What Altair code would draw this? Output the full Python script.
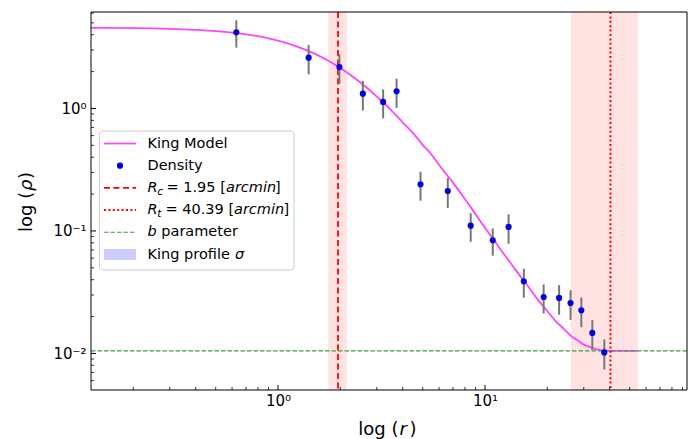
import altair as alt
import pandas as pd

# ---------------- data ----------------
R_PTS = [0.629, 1.406, 1.98, 2.57, 3.22, 3.74, 4.88, 6.61, 8.53, 10.9, 13.0,
         15.4, 19.2, 22.8, 25.9, 29.2, 33.0, 37.7]
RHO_PTS = [4.19, 2.60, 2.18, 1.32, 1.13, 1.38, 0.2405, 0.212, 0.1105, 0.0839,
           0.1078, 0.0388, 0.0289, 0.0284, 0.0258, 0.0225, 0.0147, 0.0102]
ERR_PTS = [1.05, 0.70, 0.59, 0.36, 0.30, 0.37, 0.064, 0.058, 0.029, 0.021,
           0.029, 0.0103, 0.0077, 0.0077, 0.0070, 0.0061, 0.0040, 0.0028]

R_MODEL = [0.125, 0.15, 0.2, 0.25, 0.3, 0.4, 0.5, 0.6, 0.7, 0.8, 0.9, 1.0, 1.2,
           1.5, 1.75, 2.0, 2.25, 2.5, 2.75, 3.0, 3.5, 4.0, 4.5, 5.0, 5.5, 6.0,
           7.0, 8.0, 9.0, 10.0, 11.0, 12.0, 13.5, 15.0, 16.5, 18.0, 20.0, 22.0,
           24.0, 26.0, 28.0, 30.0, 32.0, 34.0, 36.0, 38.0, 40.39, 54.8]
RHO_MODEL = [4.56, 4.548, 4.53, 4.499, 4.47, 4.383, 4.28, 4.162, 4.03, 3.887,
             3.736, 3.58, 3.264, 2.80, 2.452, 2.14, 1.867, 1.63, 1.427, 1.25,
             0.98, 0.77, 0.626, 0.505, 0.4227, 0.345, 0.248, 0.182, 0.137,
             0.106, 0.085, 0.069, 0.0528, 0.0415, 0.0336, 0.0275, 0.0222,
             0.0183, 0.0159, 0.0139, 0.0128, 0.0118, 0.0113, 0.0109, 0.01068,
             0.01053, 0.0105, 0.0105]

RC, RC_SIG = 1.95, 0.2
RT, RT_SIG = 40.39, 14.4
B_PARAM = 0.0105

X_MIN, X_MAX = 0.1249, 94.6
Y_MIN, Y_MAX = 0.00503, 6.13

X_MAJOR = [1, 10]
X_MINOR = [0.2, 0.3, 0.4, 0.5, 0.6, 0.7, 0.8, 0.9,
           2, 3, 4, 5, 6, 7, 8, 9, 20, 30, 40, 50, 60, 70, 80, 90]
Y_MAJOR = [0.01, 0.1, 1]
Y_MINOR = [0.006, 0.007, 0.008, 0.009,
           0.02, 0.03, 0.04, 0.05, 0.06, 0.07, 0.08, 0.09,
           0.2, 0.3, 0.4, 0.5, 0.6, 0.7, 0.8, 0.9, 2, 3, 4, 5, 6]

# ---------------- layout ----------------
W, H = 596, 378
FONT = "DejaVu Sans"

pts = pd.DataFrame({"r": R_PTS, "rho": RHO_PTS, "err": ERR_PTS})
pts["lo"] = pts["rho"] - pts["err"]
pts["hi"] = pts["rho"] + pts["err"]
model = pd.DataFrame({"r": R_MODEL, "rho": RHO_MODEL})
bands = pd.DataFrame({"lo": [RC - RC_SIG, RT - RT_SIG], "hi": [RC + RC_SIG, RT + RT_SIG]})

xs = alt.Scale(type="log", domain=[X_MIN, X_MAX], nice=False)
ys = alt.Scale(type="log", domain=[Y_MIN, Y_MAX], nice=False)

xaxis = alt.Axis(values=X_MAJOR, domain=False, ticks=False, tickSize=0, grid=False,
                 labelFont=FONT, labelFontSize=15, labelColor="black", labelPadding=3,
                 labelFlush=False, labelOverlap=False,
                 labelExpr="datum.value == 1 ? '10\u2070' : '10\u00b9'")
yaxis = alt.Axis(values=Y_MAJOR, domain=False, ticks=False, tickSize=0, grid=False,
                 labelFont=FONT, labelFontSize=15, labelColor="black", labelPadding=5,
                 labelFlush=False, labelOverlap=False,
                 labelExpr="datum.value < 0.05 ? '10\u207b\u00b2' : (datum.value < 0.5 ? '10\u207b\u00b9' : '10\u2070')")


def X(f):
    return alt.X(f, type="quantitative", scale=xs, axis=xaxis, title=None)


def Y(f):
    return alt.Y(f, type="quantitative", scale=ys, axis=yaxis, title=None)


one = pd.DataFrame({"k": [0]})


def txt(s, x, y, size=14.5, italic=False, angle=0, baseline="middle", color="black"):
    kw = dict(text=s, font=FONT, fontSize=size, align="left", baseline=baseline, color=color)
    if italic:
        kw["fontStyle"] = "italic"
    if angle:
        kw["angle"] = angle
    return alt.Chart(one).mark_text(**kw).encode(x=alt.value(x), y=alt.value(y))


def hline(x1, x2, y, color, width, dash=None):
    kw = dict(color=color, strokeWidth=width)
    if dash:
        kw["strokeDash"] = dash
    return alt.Chart(one).mark_rule(**kw).encode(x=alt.value(x1), x2=alt.value(x2), y=alt.value(y))


layers = []
# shaded sigma regions
layers.append(alt.Chart(bands).mark_rect(color="#ffe3e3").encode(
    x=X("lo"), x2="hi", y=alt.value(0), y2=alt.value(H)))
# King model
layers.append(alt.Chart(model).mark_line(color="#ff44ff", strokeWidth=1.8, interpolate="monotone").encode(
    x=X("r"), y=Y("rho")))
# b parameter
layers.append(alt.Chart(pd.DataFrame({"b": [B_PARAM]})).mark_rule(
    color="#3f9f3f", strokeWidth=1.1, strokeDash=[4.5, 2]).encode(y=Y("b")))
# Rc and Rt
layers.append(alt.Chart(pd.DataFrame({"r": [RC]})).mark_rule(
    color="red", strokeWidth=1.8, strokeDash=[6, 3.5]).encode(x=X("r")))
layers.append(alt.Chart(pd.DataFrame({"r": [RT]})).mark_rule(
    color="red", strokeWidth=2, strokeDash=[2, 2.4]).encode(x=X("r")))
# error bars and points
layers.append(alt.Chart(pts).mark_rule(color="#777777", strokeWidth=2).encode(
    x=X("r"), y=Y("lo"), y2="hi"))
layers.append(alt.Chart(pts).mark_circle(color="#0000dd", size=38, opacity=1).encode(
    x=X("r"), y=Y("rho")))

# inward ticks
layers.append(alt.Chart(pd.DataFrame({"v": X_MAJOR})).mark_rule(color="black", strokeWidth=1).encode(
    x=X("v"), y=alt.value(H), y2=alt.value(H - 5)))
layers.append(alt.Chart(pd.DataFrame({"v": X_MINOR})).mark_rule(color="black", strokeWidth=0.8).encode(
    x=X("v"), y=alt.value(H), y2=alt.value(H - 3)))
layers.append(alt.Chart(pd.DataFrame({"v": Y_MAJOR})).mark_rule(color="black", strokeWidth=1).encode(
    y=Y("v"), x=alt.value(0), x2=alt.value(5)))
layers.append(alt.Chart(pd.DataFrame({"v": Y_MINOR})).mark_rule(color="black", strokeWidth=0.8).encode(
    y=Y("v"), x=alt.value(0), x2=alt.value(3)))

# frame
layers.append(alt.Chart(one).mark_rect(fillOpacity=0, stroke="black", strokeWidth=1).encode(
    x=alt.value(0), x2=alt.value(W), y=alt.value(0), y2=alt.value(H)))

# ---------------- legend ----------------
layers.append(alt.Chart(one).mark_rect(fill="white", fillOpacity=0.8, stroke="#cccccc",
                                       strokeWidth=1, cornerRadius=3).encode(
    x=alt.value(8.5), x2=alt.value(203), y=alt.value(119), y2=alt.value(258)))
rows = [131.5, 153.7, 175.9, 198.1, 220.3, 242.5]
SX1, SX2, LX = 13, 45, 56.5
layers.append(hline(SX1, SX2, rows[0], "#ff44ff", 1.8))
layers.append(alt.Chart(one).mark_circle(color="#0000dd", size=38, opacity=1).encode(
    x=alt.value(29), y=alt.value(rows[1])))
layers.append(hline(SX1, SX2, rows[2], "red", 1.8, [6, 3.5]))
layers.append(hline(SX1, SX2, rows[3], "red", 2, [2, 2.4]))
layers.append(hline(SX1, SX2, rows[4], "#3f9f3f", 1.1, [4.5, 2]))
layers.append(alt.Chart(one).mark_rect(color="#ccccff").encode(
    x=alt.value(SX1), x2=alt.value(SX2), y=alt.value(rows[5] - 5.5), y2=alt.value(rows[5] + 5.5)))

layers.append(txt("King Model", LX, rows[0]))
layers.append(txt("Density", LX, rows[1]))
# R_c
layers.append(txt("R", LX, rows[2], italic=True))
layers.append(txt("c", LX + 9.8, rows[2] + 4, size=10.5, italic=True))
layers.append(txt("= 1.95 [", LX + 19, rows[2]))
layers.append(txt("arcmin", LX + 78.5, rows[2], italic=True))
layers.append(txt("]", LX + 127.5, rows[2]))
# R_t
layers.append(txt("R", LX, rows[3], italic=True))
layers.append(txt("t", LX + 9.8, rows[3] + 4, size=10.5, italic=True))
layers.append(txt("= 40.39 [", LX + 18, rows[3]))
layers.append(txt("arcmin", LX + 86.5, rows[3], italic=True))
layers.append(txt("]", LX + 136, rows[3]))
# b parameter
layers.append(txt("b", LX, rows[4], italic=True))
layers.append(txt("parameter", LX + 13.8, rows[4]))
# King profile sigma
layers.append(txt("King profile", LX, rows[5]))
layers.append(txt("\u03c3", LX + 87.5, rows[5], italic=True))

# ---------------- axis titles ----------------
layers.append(txt("log (", 267.3, 423, size=18, baseline="alphabetic"))
layers.append(txt("r", 308.5, 423, size=18, italic=True, baseline="alphabetic"))
layers.append(txt(")", 318.5, 423, size=18, baseline="alphabetic"))

layers.append(txt("log (", -59.3, 220, size=18, angle=270, baseline="alphabetic"))
layers.append(txt("\u03c1", -59.3, 179, size=18, angle=270, italic=True, baseline="alphabetic"))
layers.append(txt(")", -59.3, 167, size=18, angle=270, baseline="alphabetic"))

chart = alt.layer(*layers).properties(
    width=W, height=H,
    padding={"left": 91, "top": 12, "right": 10, "bottom": 49},
    autosize=alt.AutoSizeParams(type="none"),
).configure_view(strokeWidth=0)

chart.save("out.html", embed_options={"renderer": "svg", "actions": False})
